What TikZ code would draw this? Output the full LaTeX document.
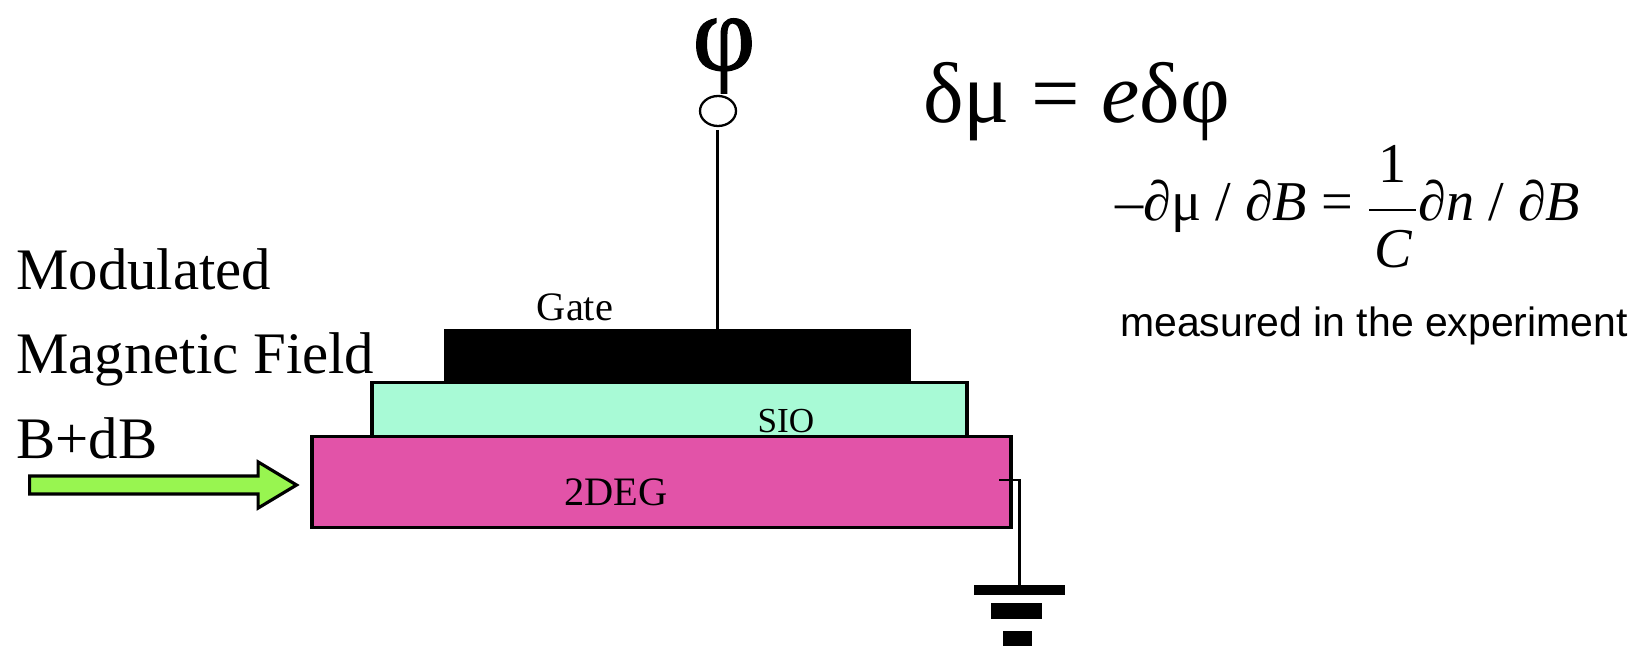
\documentclass[tikz,border=0pt]{standalone}
\usepackage{fontspec}
\setmainfont{Liberation Serif}
\setsansfont{Liberation Sans}
\newfontfamily\heavyfont[FakeBold=1.2]{Liberation Serif}
\usetikzlibrary{positioning,calc,shapes.arrows,shapes.geometric}

\definecolor{gatepink}{RGB}{226,83,168}
\definecolor{oxidemint}{RGB}{168,250,214}
\definecolor{fieldgreen}{RGB}{152,245,80}

\newcommand{\fs}[1]{\fontsize{#1}{#1}\selectfont}

\begin{document}
\begin{tikzpicture}[
  x=0.02cm, y=-0.02cm,
  layerbox/.style={
    draw=black, rectangle, inner sep=0pt, line width=2.2pt
  },
  groundbar/.style={
    fill=black, rectangle, inner sep=0pt
  },
  sidelabel/.style={anchor=base west, inner sep=0pt, font=\fs{33.5}},
  layerlabel/.style={anchor=base, inner sep=0pt},
  wire/.style={black, line width=1.7pt},
]
\useasboundingbox (0,0) rectangle (1637,648);

%% Layers of the device
\node[layerbox, fill=black, minimum width=9.26cm, minimum height=1.04cm] (gate) at (677.5,357) {};
\node[layerbox, fill=oxidemint, minimum width=11.9cm, minimum height=1.08cm] (sio) at (669.5,409.5) {};
\node[layerbox, fill=gatepink, minimum width=13.98cm, minimum height=1.82cm] (deg) at (661.5,482) {};

%% Layer labels
\node[layerlabel, font=\fs{23}] (gatelabel) at (575,321) {Gate};
\node[layerlabel, font=\fs{20}] (siolabel) at (786,433) {SIO};
\node[layerlabel, font=\fs{23}] (deglabel) at (616,505) {2DEG};

%% Field label and arrow
\node[sidelabel] (mod) at (16,290) {Modulated};
\node[sidelabel] (mag) at (16,374) {Magnetic Field};
\node[sidelabel] (bdb) at (16,459) {B+dB};
\node[draw=black, fill=fieldgreen, line width=1.8pt, shape=single arrow,
  inner sep=0pt, minimum height=5.34cm, minimum width=0.86cm,
  single arrow head extend=0.28cm, single arrow tip angle=62,
  single arrow head indent=0pt] (field) at (155.5,485) {\rule{0pt}{0.3cm}};

%% Gate terminal
\node[draw=black, ellipse, line width=1.3pt, minimum width=0.72cm, minimum height=0.6cm, inner sep=0pt] (term) at (718,111) {};
\node[layerlabel, font=\heavyfont\fs{62}] (phi) at (724,70) {φ};
\coordinate (feed) at (717,130);
\draw[wire] (feed) -- (feed |- gate.north);

%% Ground
\node[groundbar, minimum width=1.82cm, minimum height=0.2cm] (bar1) at (1019.5,590) {};
\node[groundbar, minimum width=1.02cm, minimum height=0.32cm] (bar2) at (1016.5,611) {};
\node[groundbar, minimum width=0.58cm, minimum height=0.3cm] (bar3) at (1017.5,638.5) {};
\coordinate (tap) at (999,480);
\draw[wire] (tap) -| (bar1.north);

%% Equations
\node[anchor=base west, inner sep=0pt, font=\fs{49}] (eqone) at (923,123) {δμ = \textit{e}δφ};
\node[anchor=base west, inner sep=0pt, font=\fs{32}] (eqtwo) at (1115,221)
  {–∂μ / ∂\textit{B} = $\displaystyle{\mbox{\rule[-0.33em]{0pt}{0pt}1}\above 1.5pt\mbox{\rule{0pt}{0.86em}\makebox[0.84em]{\itshape C}}}$∂\textit{n} / ∂\textit{B}};
\node[anchor=base west, inner sep=0pt, font=\sffamily\fs{23.3}] (note) at (1120,337) {measured in the experiment};
\end{tikzpicture}
\end{document}
